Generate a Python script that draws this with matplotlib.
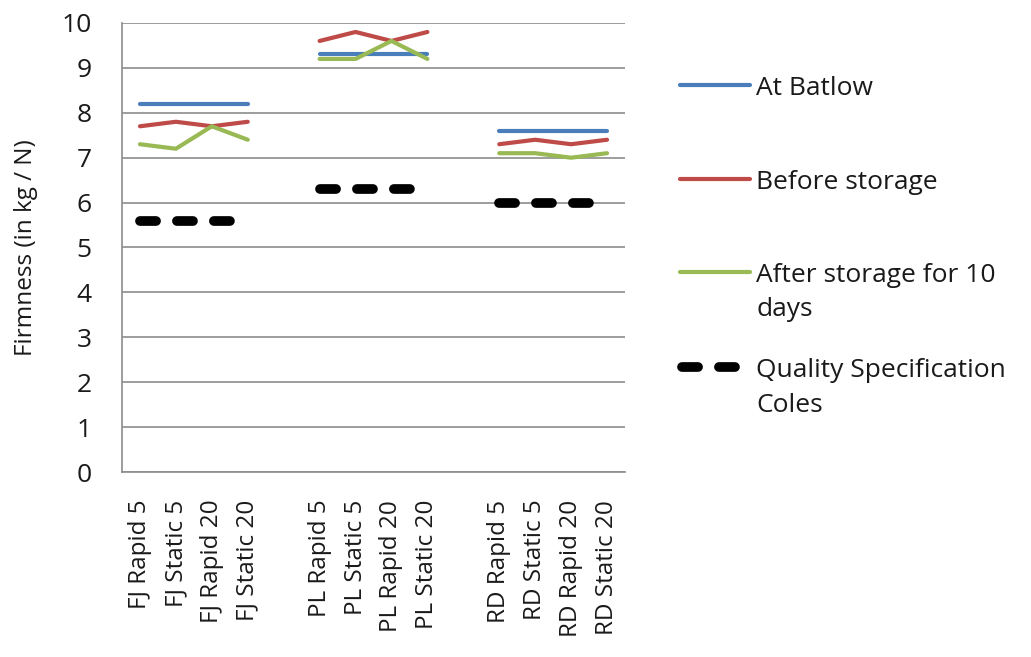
import numpy as np
import matplotlib
matplotlib.use("Agg")
import matplotlib.pyplot as plt
from matplotlib.lines import Line2D

plt.rcParams['font.family'] = ['Open Sans', 'DejaVu Sans']

# categories, with a blank slot between each orchard group
categories = ["FJ Rapid 5", "FJ Static 5", "FJ Rapid 20", "FJ Static 20", "",
              "PL Rapid 5", "PL Static 5", "PL Rapid 20", "PL Static 20", "",
              "RD Rapid 5", "RD Static 5", "RD Rapid 20", "RD Static 20"]
nan = np.nan
at_batlow = [8.2, 8.2, 8.2, 8.2, nan, 9.3, 9.3, 9.3, 9.3, nan, 7.6, 7.6, 7.6, 7.6]
before_storage = [7.7, 7.8, 7.7, 7.8, nan, 9.6, 9.8, 9.6, 9.8, nan, 7.3, 7.4, 7.3, 7.4]
after_storage = [7.3, 7.2, 7.7, 7.4, nan, 9.2, 9.2, 9.6, 9.2, nan, 7.1, 7.1, 7.0, 7.1]
quality_spec = [5.6, 5.6, 5.6, 5.6, nan, 6.3, 6.3, 6.3, 6.3, nan, 6.0, 6.0, 6.0, 6.0]

labels = ["At Batlow", "Before storage", "After storage for 10\ndays",
          "Quality Specification\nColes"]
colors = ["#4A7EBB", "#BE4B48", "#98B954", "black"]
txt_color = "#1a1a1a"
dash_pat = (1.65, 2.15)

fig = plt.figure(figsize=(10.31, 6.57), dpi=100)
W, H = 1031, 657
ax = fig.add_axes([122 / W, 1 - 472 / H, 503 / W, 449 / H])

x = np.arange(len(categories))
for vals, c in zip([at_batlow, before_storage, after_storage], colors[:3]):
    ax.plot(x, vals, color=c, lw=3, solid_capstyle='round', zorder=3)
ax.plot(x, quality_spec, color="black", lw=7, dashes=dash_pat,
        dash_capstyle='round', zorder=3)

ax.set_xlim(-0.5, len(categories) - 0.5)
ax.set_ylim(0, 10)
ax.set_yticks(range(0, 11))
ax.set_xticks(x)
ax.set_xticklabels(categories, rotation=90, fontsize=17.5)
ax.tick_params(axis='both', length=0, colors=txt_color)
ax.tick_params(axis='y', labelsize=19, pad=22)
ax.tick_params(axis='x', pad=20)
ax.yaxis.grid(True, color="#8c8c8c", lw=1.2)
ax.set_axisbelow(True)
for s in ["top", "right"]:
    ax.spines[s].set_visible(False)
for s in ["left", "bottom"]:
    ax.spines[s].set_color("#8c8c8c")
    ax.spines[s].set_linewidth(1.2)
ax.set_ylabel("Firmness (in kg / N)", fontsize=17.5, color=txt_color)
ax.yaxis.set_label_coords(-0.167, 0.5)

# legend drawn by hand to match the uneven spacing of the original
legend_y = [85, 179, 272, 367]
for lab, c, yy in zip(labels, colors, legend_y):
    yf = 1 - yy / H
    if c == "black":
        fig.add_artist(Line2D([682 / W, 735 / W], [yf, yf], color=c, lw=7,
                              dashes=dash_pat, dash_capstyle='round'))
    else:
        fig.add_artist(Line2D([680 / W, 750 / W], [yf, yf], color=c, lw=3,
                              solid_capstyle='round'))
    fig.text(756 / W, 1 - (yy - 9) / H, lab, fontsize=19, va='top',
             ha='left', color=txt_color, linespacing=1.5)

fig.savefig("out.png", dpi=100)
